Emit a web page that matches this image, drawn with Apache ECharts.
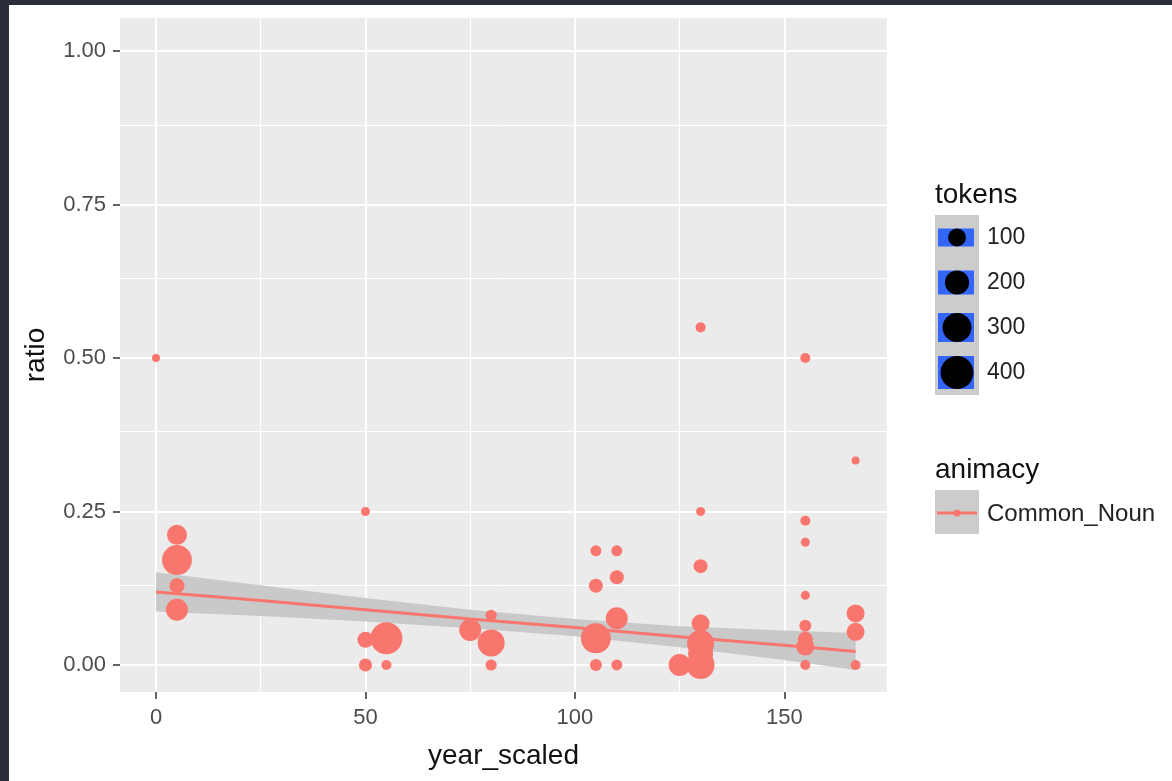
<!DOCTYPE html>
<html>
<head>
<meta charset="utf-8">
<script src="https://cdn.jsdelivr.net/npm/echarts@6/dist/echarts.min.js"></script>
<style>
html, body { margin: 0; padding: 0; background: #fff; }
#chart { width: 1172px; height: 781px; }
</style>
</head>
<body>
<div id="chart"></div>
<script>
// observations: year_scaled, ratio, tokens (point size)
const yearScaled = [0, 5, 5, 5, 5, 50, 50, 50, 55, 55, 75, 80, 80, 80,
  105, 105, 105, 105, 110, 110, 110, 110, 125,
  130, 130, 130, 130, 130, 130, 130,
  155, 155, 155, 155, 155, 155, 155, 155,
  167, 167, 167, 167];
const ratio = [0.5, 0.212, 0.171, 0.129, 0.09, 0.25, 0.041, 0, 0.0435, 0, 0.057, 0.081, 0.036, 0,
  0.186, 0.129, 0.0435, 0, 0.186, 0.143, 0.076, 0, 0,
  0.55, 0.25, 0.161, 0.068, 0.035, 0.018, 0,
  0.5, 0.235, 0.2, 0.1135, 0.064, 0.042, 0.03, 0,
  0.333, 0.084, 0.054, 0];
const tokens = [11, 128, 324, 64, 160, 16, 75, 45, 374, 22, 160, 30, 256, 30,
  28, 54, 324, 36, 28, 54, 160, 28, 160,
  22, 16, 54, 100, 256, 215, 278,
  22, 22, 16, 16, 36, 64, 100, 22,
  11, 100, 100, 22];

// linear smooth with its confidence band
const fitX = [0, 25, 50, 75, 100, 125, 150, 167];
const fitY = [0.119, 0.105, 0.090, 0.075, 0.061, 0.046, 0.032, 0.022];
const bandLow = [0.087, 0.080, 0.071, 0.060, 0.047, 0.029, 0.008, -0.008];
const bandHigh = [0.151, 0.130, 0.109, 0.090, 0.075, 0.063, 0.056, 0.052];

const xTicks = [0, 50, 100, 150];
const yTicks = [0, 0.25, 0.5, 0.75, 1];
const xMinor = [25, 75, 125];
const yMinor = [0.125, 0.375, 0.625, 0.875];
const legendTokens = [100, 200, 300, 400];
const groupName = 'Common_Noun';

const FONT = 'Liberation Sans, Arial, sans-serif';
const RED = '#F8766D';
const sizeOf = t => 3 + 1.5 * Math.sqrt(t);

const chart = echarts.init(document.getElementById('chart'));

const legendGraphics = [
  { type: 'rect', shape: { x: 0, y: 0, width: 1172, height: 5 }, style: { fill: '#2B2E38' } },
  { type: 'rect', shape: { x: 0, y: 0, width: 9, height: 781 }, style: { fill: '#2B2E38' } },
  { type: 'text', x: 935, y: 195, style: { text: 'tokens', font: '28px ' + FONT, fill: '#111', verticalAlign: 'middle' } },
  { type: 'rect', shape: { x: 935, y: 215, width: 44, height: 180 }, style: { fill: '#CCCCCC' } },
  { type: 'text', x: 935, y: 470, style: { text: 'animacy', font: '28px ' + FONT, fill: '#111', verticalAlign: 'middle' } },
  { type: 'rect', shape: { x: 935, y: 490, width: 44, height: 44 }, style: { fill: '#CCCCCC' } },
  { type: 'line', shape: { x1: 937, y1: 513, x2: 977, y2: 513 }, style: { stroke: RED, lineWidth: 3 } },
  { type: 'circle', shape: { cx: 957, cy: 513, r: 3.5 }, style: { fill: RED } },
  { type: 'text', x: 987, y: 514, style: { text: groupName, font: '24px ' + FONT, fill: '#222', verticalAlign: 'middle' } }
];
legendTokens.forEach((t, i) => {
  const cy = 237.5 + i * 45;
  const d = sizeOf(t);
  legendGraphics.push(
    { type: 'rect', shape: { x: 938, y: cy - d / 2, width: 36, height: d }, style: { fill: '#3366FF' } },
    { type: 'circle', shape: { cx: 957, cy: cy, r: d / 2 }, style: { fill: '#000' } },
    { type: 'text', x: 987, y: cy, style: { text: String(t), font: '23px ' + FONT, fill: '#222', verticalAlign: 'middle' } }
  );
});

const axisTitle = { color: '#111', fontSize: 28, fontFamily: FONT };

chart.setOption({
  animation: false,
  backgroundColor: '#fff',
  textStyle: { fontFamily: FONT },
  grid: {
    left: 120, top: 18, width: 767, height: 674,
    show: true, backgroundColor: '#EBEBEB', borderWidth: 0
  },
  xAxis: {
    type: 'value', min: -8.6, max: 174.5,
    name: 'year_scaled', nameLocation: 'middle', nameGap: 50, nameTextStyle: axisTitle,
    axisLine: { show: false, onZero: false },
    axisTick: { show: true, length: 7, customValues: xTicks, lineStyle: { color: '#333', width: 1.5 } },
    axisLabel: { customValues: xTicks, color: '#4D4D4D', fontSize: 22, margin: 15 },
    splitLine: { show: true, lineStyle: { color: '#fff', width: 2 } }
  },
  yAxis: {
    type: 'value', min: -0.044, max: 1.054,
    name: 'ratio', nameLocation: 'middle', nameRotate: 90, nameGap: 70, nameTextStyle: axisTitle,
    axisLine: { show: false, onZero: false },
    axisTick: { show: true, length: 7, customValues: yTicks, lineStyle: { color: '#333', width: 1.5 } },
    axisLabel: { customValues: yTicks, color: '#4D4D4D', fontSize: 22, margin: 14, formatter: v => v.toFixed(2) },
    splitLine: { show: true, lineStyle: { color: '#fff', width: 2 } }
  },
  graphic: legendGraphics,
  series: [
    {
      type: 'scatter', data: [], z: 1, silent: true,
      markLine: {
        z: 1, silent: true, symbol: 'none', animation: false,
        label: { show: false },
        lineStyle: { color: '#fff', width: 1, type: 'solid' },
        data: xMinor.map(v => ({ xAxis: v })).concat(yMinor.map(v => ({ yAxis: v })))
      }
    },
    {
      type: 'custom', z: 2, silent: true,
      data: fitX.map((x, i) => [x, bandLow[i], bandHigh[i]]),
      encode: { x: 0, y: [1, 2] },
      renderItem: (params, api) => {
        if (params.dataIndex !== 0) return;
        const pts = [];
        fitX.forEach((x, i) => pts.push(api.coord([x, bandHigh[i]])));
        for (let i = fitX.length - 1; i >= 0; i--) pts.push(api.coord([fitX[i], bandLow[i]]));
        return { type: 'polygon', shape: { points: pts }, style: { fill: '#C9C9C9' } };
      }
    },
    {
      type: 'line', z: 3, silent: true, symbol: 'none',
      data: fitX.map((x, i) => [x, fitY[i]]),
      lineStyle: { color: RED, width: 3 }
    },
    {
      type: 'scatter', z: 4, silent: true,
      data: yearScaled.map((x, i) => [x, ratio[i], tokens[i]]),
      symbolSize: v => sizeOf(v[2]),
      itemStyle: { color: RED, opacity: 1 }
    }
  ]
});
</script>
</body>
</html>
